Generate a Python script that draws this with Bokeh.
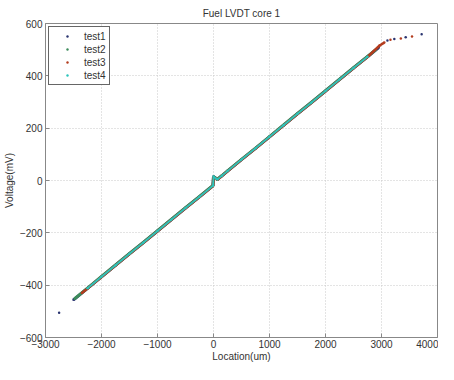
from bokeh.plotting import figure
from bokeh.models import Legend, LegendItem, Range1d, FixedTicker
from bokeh.embed import file_html
from bokeh.resources import INLINE

# ---- data ----
test1_x = [-2500, -2250, -2000, -1750, -1500, -1250, -1000, -750, -500, -250, -10, 0, 40, 70, 150, 250, 500, 750, 1000, 1250, 1500, 1750, 2000, 2250, 2500, 2750, 2950]
test1_y = [-456, -412, -368, -324, -280, -237, -193, -149, -105, -62, -20, 15, 8, 4, 18, 36, 80, 123, 167, 211, 255, 298, 342, 386, 430, 473, 508]
test1_tail_x = [-2757, 3106, 3229, 3432, 3717]
test1_tail_y = [-505, 535, 541, 547, 559]

test2_x = [-2480, -2250, -2000, -1750, -1500, -1250, -1000, -750, -500, -250, -10, 0, 40, 70, 150, 250, 500, 750, 1000, 1250, 1500, 1750, 2000, 2250, 2500, 2750, 2900]
test2_y = [-452, -411, -367, -323, -279, -236, -192, -148, -104, -61, -19, 14, 9, 5, 19, 37, 81, 124, 168, 212, 256, 299, 343, 387, 431, 474, 500]

test3_x = [-2350, -2250, -2000, -1750, -1500, -1250, -1000, -750, -500, -250, -10, 0, 40, 70, 150, 250, 500, 750, 1000, 1250, 1500, 1750, 2000, 2250, 2500, 2750, 2967, 3050]
test3_y = [-430, -413, -369, -325, -281, -238, -194, -150, -106, -63, -21, 13, 7, 3, 17, 35, 79, 122, 166, 210, 254, 297, 341, 385, 429, 472, 516, 527]
test3_tail_x = [3160, 3345, 3545]
test3_tail_y = [538, 543, 550]

test4_x = [-2250, -2000, -1750, -1500, -1250, -1000, -750, -500, -250, -10, 0, 40, 70, 150, 250, 500, 750, 1000, 1250, 1500, 1750, 2000, 2250, 2500, 2750]
test4_y = [-412, -368, -324, -280, -237, -193, -149, -105, -62, -20, 15, 8, 4, 18, 36, 80, 123, 167, 211, 255, 298, 342, 386, 430, 473]

x_ticks = [-3000, -2000, -1000, 0, 1000, 2000, 3000, 4000]
y_ticks = [-600, -400, -200, 0, 200, 400, 600]

FONT = "Liberation Sans"
TXT = "#333333"
AX = "#888888"

p = figure(width=438, height=364, output_backend="svg", toolbar_location=None,
           x_range=Range1d(-3000, 4000), y_range=Range1d(-600, 600),
           min_border_left=35, min_border_right=1, min_border_top=19, min_border_bottom=10)
p.title.text = "Fuel LVDT core 1"
p.title.align = "center"
p.title.text_font = FONT
p.title.text_font_size = "10px"
p.title.text_font_style = "normal"
p.title.text_color = TXT

for ax in (p.xaxis[0], p.yaxis[0]):
    ax.major_label_text_font = FONT
    ax.major_label_text_font_size = "10px"
    ax.major_label_text_color = TXT
    ax.axis_line_color = AX
    ax.major_tick_in = 4
    ax.major_tick_out = 0
    ax.major_tick_line_color = AX
    ax.minor_tick_line_color = None
    ax.major_label_standoff = 3
    ax.axis_label_text_font = FONT
    ax.axis_label_text_font_size = "10px"
    ax.axis_label_text_font_style = "normal"
    ax.axis_label_text_color = TXT

p.xaxis[0].ticker = FixedTicker(ticks=x_ticks)
p.xaxis[0].axis_label = "Location(um)"
p.xaxis[0].axis_label_standoff = 0
p.xaxis[0].major_label_standoff = 2
p.yaxis[0].ticker = FixedTicker(ticks=y_ticks)
p.yaxis[0].axis_label = "Voltage(mV)"
p.yaxis[0].axis_label_standoff = 2

p.outline_line_color = AX
p.xgrid.ticker = FixedTicker(ticks=x_ticks)
p.ygrid.ticker = FixedTicker(ticks=y_ticks)
for g in (p.xgrid[0], p.ygrid[0]):
    g.grid_line_color = "#c8c8c8"
    g.grid_line_dash = "1 2"

c1, c2, c3, c4 = "#2a3470", "#3d8c5c", "#b33c1e", "#2bc4bb"

p.line(test1_x, test1_y, line_color=c1, line_width=3)
r1 = p.scatter(test1_x, test1_y, size=2.5, color=c1, line_color=None)
p.scatter(test1_tail_x, test1_tail_y, size=2.5, color=c1, line_color=None)

p.line(test2_x, test2_y, line_color=c2, line_width=3)
r2 = p.scatter(test2_x, test2_y, size=2.5, color=c2, line_color=None)

p.line(test3_x, test3_y, line_color=c3, line_width=2.5)
r3 = p.scatter(test3_x, test3_y, size=2.5, color=c3, line_color=None)
p.scatter(test3_tail_x, test3_tail_y, size=2.5, color=c3, line_color=None)

p.line(test4_x, test4_y, line_color=c4, line_width=1.8)
r4 = p.scatter(test4_x, test4_y, size=2.5, color=c4, line_color=None)

legend = Legend(items=[LegendItem(label="test1", renderers=[r1]),
                       LegendItem(label="test2", renderers=[r2]),
                       LegendItem(label="test3", renderers=[r3]),
                       LegendItem(label="test4", renderers=[r4])],
                location="top_left", margin=3, padding=3, spacing=1,
                glyph_width=30, glyph_height=6, label_height=12,
                label_standoff=2,
                label_text_font=FONT, label_text_font_size="10px",
                label_text_color=TXT,
                border_line_color="#666666", border_line_alpha=1.0,
                border_line_width=1,
                background_fill_color="white", background_fill_alpha=1.0)
p.add_layout(legend, "center")

open("out.html", "w").write(file_html(p, INLINE))
